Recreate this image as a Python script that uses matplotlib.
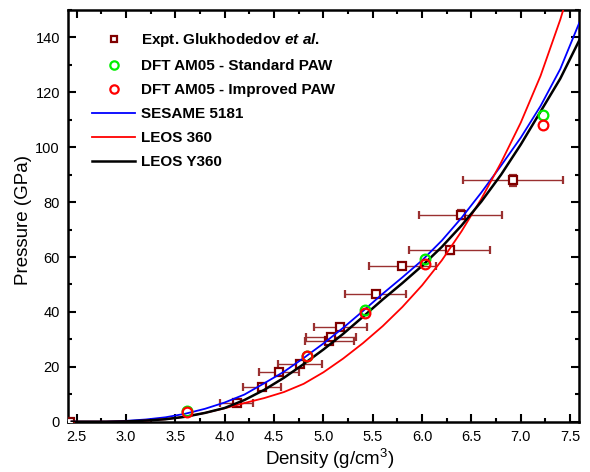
import matplotlib
matplotlib.use('Agg')
import matplotlib.pyplot as plt
from matplotlib.ticker import MultipleLocator
from matplotlib.lines import Line2D

# ── Data ───────────────────────────────────────────────────────────────────
# Experimental Hugoniot (Glukhodedov et al.)
exp_rho  = [2.43, 4.12, 4.38, 4.55, 4.76, 5.06, 5.08, 5.17, 5.53, 5.80, 6.28, 6.39, 6.92]
exp_p    = [0.0,  6.7,  12.5, 18.2, 20.9, 29.5, 30.9, 34.5, 46.7, 56.7, 62.4, 75.4, 87.9]
exp_drho = [0.0,  0.17, 0.19, 0.20, 0.225, 0.25, 0.255, 0.27, 0.31, 0.34, 0.41, 0.42, 0.505]
exp_dp   = [0.0,  0.5,  0.6,  0.6,  0.7,  0.8,  0.8,  0.8,  1.0,  1.0,  1.2,  1.6,  2.0]

# DFT AM05
dft_rho      = [3.62, 4.83, 5.42, 6.03, 7.23]
dft_std_p    = [3.8,  24.1, 40.6, 59.4, 111.8]
dft_impr_p   = [3.6,  23.9, 39.6, 57.6, 108.1]

# EOS tables
eos_rho = [2.45, 2.8, 3.0, 3.2, 3.4, 3.6, 3.8, 4.0, 4.2, 4.4, 4.6, 4.8, 5.0, 5.2,
           5.4, 5.6, 5.8, 6.0, 6.2, 6.4, 6.6, 6.8, 7.0, 7.2, 7.4, 7.6]
sesame_5181 = [0.0, 0.0, 0.3, 0.8, 1.6, 2.9, 4.7, 7.0, 9.9, 14.0, 18.2, 23.2, 28.5, 34.2,
               40.3, 46.6, 52.6, 58.8, 66.0, 74.3, 83.5, 93.3, 103.5, 115.0, 128.5, 146.0]
leos_360    = [0.0, 0.0, 0.1, 0.4, 0.9, 1.8, 3.2, 4.9, 6.8, 8.6, 10.8, 13.8, 18.0, 23.0,
               28.6, 34.8, 41.8, 49.7, 58.8, 69.4, 81.2, 94.4, 109.0, 126.0, 146.5, 170.0]
leos_y360   = [0.0, 0.0, 0.1, 0.4, 0.9, 1.8, 3.2, 5.0, 7.9, 11.6, 16.0, 21.0, 26.3, 32.0,
               38.2, 44.5, 50.5, 56.8, 63.7, 71.5, 80.2, 90.0, 101.0, 113.0, 125.0, 139.5]

# ── Style ──────────────────────────────────────────────────────────────────
plt.rcParams['font.family'] = ['Liberation Sans', 'DejaVu Sans']
plt.rcParams['mathtext.fontset'] = 'custom'
plt.rcParams['mathtext.rm'] = 'Liberation Sans:bold'
plt.rcParams['mathtext.it'] = 'Liberation Sans:italic:bold'

COR_EXP = '#800000'
COR_ERR = '#9a3030'
COR_STD = '#00ee00'
COR_IMP = '#ff0000'

fig = plt.figure(figsize=(5.9, 4.72), dpi=100)
ax = fig.add_axes([0.1158, 0.1066, 0.8656, 0.8722])

# ── Experimental points ────────────────────────────────────────────────────
ax.errorbar(exp_rho, exp_p, xerr=exp_drho, yerr=exp_dp, fmt='s', ms=5.5,
            mfc='white', mec=COR_EXP, mew=1.6, ecolor=COR_ERR, elinewidth=1.0,
            capsize=3, capthick=1.0, zorder=3)

# ── EOS curves ─────────────────────────────────────────────────────────────
l_ses, = ax.plot(eos_rho, sesame_5181, color='#0000ff', lw=1.3, zorder=4)
l_leos, = ax.plot(eos_rho, leos_360, color='#ff0000', lw=1.3, zorder=4)
l_y, = ax.plot(eos_rho, leos_y360, color='black', lw=1.8, zorder=4)

# ── DFT points ─────────────────────────────────────────────────────────────
ax.plot(dft_rho, dft_std_p, 'o', ms=7, mfc='none', mec=COR_STD, mew=1.6, zorder=5)
ax.plot(dft_rho, dft_impr_p, 'o', ms=7, mfc='none', mec=COR_IMP, mew=1.6, zorder=6)

# ── Axes ───────────────────────────────────────────────────────────────────
ax.set_xlim(2.415, 7.59)
ax.set_ylim(0, 150)
ax.xaxis.set_major_locator(MultipleLocator(0.5))
ax.xaxis.set_minor_locator(MultipleLocator(0.25))
ax.yaxis.set_major_locator(MultipleLocator(20))
ax.yaxis.set_minor_locator(MultipleLocator(10))
ax.xaxis.set_major_formatter(plt.FuncFormatter(lambda v, p: f'{v:.1f}'))
ax.tick_params(which='both', direction='in', top=True, right=True, width=1.5,
               labelsize=10.5, pad=6)
ax.tick_params(which='major', length=6)
ax.tick_params(which='minor', length=3)
for spine in ax.spines.values():
    spine.set_linewidth(1.8)

ax.set_xlabel(r'Density (g/cm$^{\mathregular{3}}$)', fontsize=13.5, va='bottom')
ax.set_ylabel('Pressure (GPa)', fontsize=13.5)
ax.xaxis.set_label_coords(0.512, -0.12)
ax.yaxis.set_label_coords(-0.072, 0.49)

# ── Legend ─────────────────────────────────────────────────────────────────
handles = [
    Line2D([], [], ls='none', marker='s', ms=5, mfc='white', mec=COR_EXP, mew=1.6),
    Line2D([], [], ls='none', marker='o', ms=6, mfc='none', mec=COR_STD, mew=1.6),
    Line2D([], [], ls='none', marker='o', ms=6, mfc='none', mec=COR_IMP, mew=1.6),
    l_ses, l_leos, l_y,
]
labels = [r'Expt. Glukhodedov $\it{et\ al.}$', 'DFT AM05 - Standard PAW',
          'DFT AM05 - Improved PAW', 'SESAME 5181', 'LEOS 360', 'LEOS Y360']
ax.legend(handles, labels, loc='upper left', bbox_to_anchor=(0.026, 0.974),
          frameon=False, handlelength=2.8, handletextpad=0.4, labelspacing=0.65,
          borderaxespad=0.3, prop={'weight': 'bold', 'size': 11})

fig.savefig('out.png', dpi=100)
